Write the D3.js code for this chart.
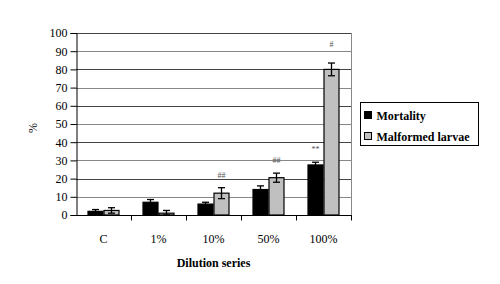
<!DOCTYPE html>
<html>
<head>
<meta charset="utf-8">
<script src="https://cdn.jsdelivr.net/npm/d3@7.9.0/dist/d3.min.js"></script>
<style>
  body { margin: 0; background: #fff; }
</style>
</head>
<body>
<svg id="chart" width="500" height="284" font-family="Liberation Serif"></svg>
<script>
// data
const categories = ['C', '1%', '10%', '50%', '100%'];
const seriesNames = ['Mortality', 'Malformed larvae'];
const mortality = [2, 7, 6, 14, 27.5];
const mortalityErr = [1, 1.5, 1, 2, 1.5];
const malformed = [2.5, 1, 12, 20.5, 80];
const malformedErr = [1.5, 1.5, 3, 2.5, 3.5];
const marks = [['', ''], ['', ''], ['', '##'], ['', '##'], ['**', '#']];
const yTicks = d3.range(0, 101, 10);

const colors = ['#000000', '#c0c0c0'];
const serif = 'Liberation Serif';

const svg = d3.select('#chart');
const area = { left: 76, right: 351, top: 33, bottom: 215 };

const x = d3.scaleBand()
  .domain(categories)
  .range([area.left, area.right]);

const sub = d3.scaleBand()
  .domain(seriesNames)
  .range([0, 32]);

const y = d3.scaleLinear()
  .domain([0, 100])
  .range([area.bottom, area.top]);

// gridlines
svg.append('g')
  .selectAll('line')
  .data(yTicks.slice(1))
  .join('line')
  .attr('x1', area.left)
  .attr('x2', area.right)
  .attr('y1', d => Math.round(y(d)) + 0.5)
  .attr('y2', d => Math.round(y(d)) + 0.5)
  .attr('stroke', (d, i) => i % 2 ? '#444' : '#888')
  .attr('stroke-width', 1);

// right frame
svg.append('line')
  .attr('x1', area.right + 0.5).attr('x2', area.right + 0.5)
  .attr('y1', area.top).attr('y2', area.bottom)
  .attr('stroke', '#888');

// rows of bars
const rows = categories.map((c, i) => ({
  cat: c,
  vals: [
    { s: seriesNames[0], v: mortality[i], e: mortalityErr[i], m: marks[i][0] },
    { s: seriesNames[1], v: malformed[i], e: malformedErr[i], m: marks[i][1] },
  ],
}));

const groups = svg.append('g')
  .selectAll('g')
  .data(rows)
  .join('g')
  .attr('transform', d => `translate(${x(d.cat) + (x.bandwidth() - 32) / 2},0)`);

const bars = groups.selectAll('g')
  .data(d => d.vals)
  .join('g');

bars.append('rect')
  .attr('x', d => sub(d.s) + 0.5)
  .attr('width', sub.bandwidth() - 1)
  .attr('y', d => y(d.v))
  .attr('height', d => y(0) - y(d.v))
  .attr('fill', (d, i) => colors[i])
  .attr('stroke', '#000')
  .attr('stroke-width', 1.2);

// error bars
const cx = d => sub(d.s) + sub.bandwidth() / 2;
bars.append('line')
  .attr('x1', cx).attr('x2', cx)
  .attr('y1', d => y(d.v + d.e))
  .attr('y2', d => y(Math.max(0, d.v - d.e)))
  .attr('stroke', '#000').attr('stroke-width', 1.3);
bars.append('line')
  .attr('x1', d => cx(d) - 3.5).attr('x2', d => cx(d) + 3.5)
  .attr('y1', d => y(d.v + d.e)).attr('y2', d => y(d.v + d.e))
  .attr('stroke', '#000').attr('stroke-width', 1.3);
bars.append('line')
  .attr('x1', d => cx(d) - 3.5).attr('x2', d => cx(d) + 3.5)
  .attr('y1', d => y(Math.max(0, d.v - d.e))).attr('y2', d => y(Math.max(0, d.v - d.e)))
  .attr('stroke', '#000').attr('stroke-width', 1.3);

// significance marks
bars.append('text')
  .attr('x', cx)
  .attr('y', d => y(d.v + d.e) - (d.m === '#' ? 16 : 10))
  .attr('text-anchor', 'middle')
  .attr('font-family', serif)
  .attr('font-size', 8)
  .attr('fill', '#555')
  .text(d => d.m);

// y axis
svg.append('g')
  .attr('transform', `translate(${area.left + 0.5},0)`)
  .call(d3.axisLeft(y).tickValues(yTicks).tickSize(6).tickPadding(3))
  .attr('font-family', serif)
  .attr('font-size', 12)
  .call(g => g.selectAll('text').attr('fill', '#000'))
  .call(g => g.selectAll('line,path').attr('stroke', '#000'));

// x axis
const xAxis = svg.append('g')
  .attr('transform', `translate(0,${area.bottom + 0.5})`);
xAxis.append('line')
  .attr('x1', area.left).attr('x2', area.right + 1)
  .attr('stroke', '#000');
xAxis.selectAll('.tk')
  .data(categories.slice(1).concat(['end']))
  .join('line')
  .attr('class', 'tk')
  .attr('x1', (d, i) => Math.round(area.left + x.step() * (i + 1)) + 0.5)
  .attr('x2', (d, i) => Math.round(area.left + x.step() * (i + 1)) + 0.5)
  .attr('y1', 0).attr('y2', 5)
  .attr('stroke', '#000');
xAxis.selectAll('.lbl')
  .data(categories)
  .join('text')
  .attr('class', 'lbl')
  .attr('x', d => x(d) + x.bandwidth() / 2)
  .attr('y', 27)
  .attr('text-anchor', 'middle')
  .attr('font-family', serif)
  .attr('font-size', 12)
  .text(d => d);

// axis titles
svg.append('text')
  .attr('x', (area.left + area.right) / 2)
  .attr('y', 267)
  .attr('text-anchor', 'middle')
  .attr('font-family', serif)
  .attr('font-size', 12)
  .attr('font-weight', 'bold')
  .text('Dilution series');

svg.append('text')
  .attr('transform', 'translate(37,128) rotate(-90)')
  .attr('text-anchor', 'middle')
  .attr('font-family', serif)
  .attr('font-size', 12)
  .text('%');

// legend
const legend = svg.append('g').attr('transform', 'translate(360.5,102.5)');
legend.append('rect')
  .attr('width', 118).attr('height', 43)
  .attr('fill', '#fff').attr('stroke', '#000');
const li = legend.selectAll('.item')
  .data(seriesNames)
  .join('g')
  .attr('class', 'item')
  .attr('transform', (d, i) => `translate(4,${13 + i * 21})`);
li.append('rect')
  .attr('x', 0).attr('y', -4)
  .attr('width', 7).attr('height', 7)
  .attr('fill', (d, i) => colors[i])
  .attr('stroke', '#000');
li.append('text')
  .attr('x', 12).attr('y', 4)
  .attr('font-family', serif)
  .attr('font-size', 12)
  .attr('font-weight', 'bold')
  .text(d => d);
</script>
</body>
</html>
